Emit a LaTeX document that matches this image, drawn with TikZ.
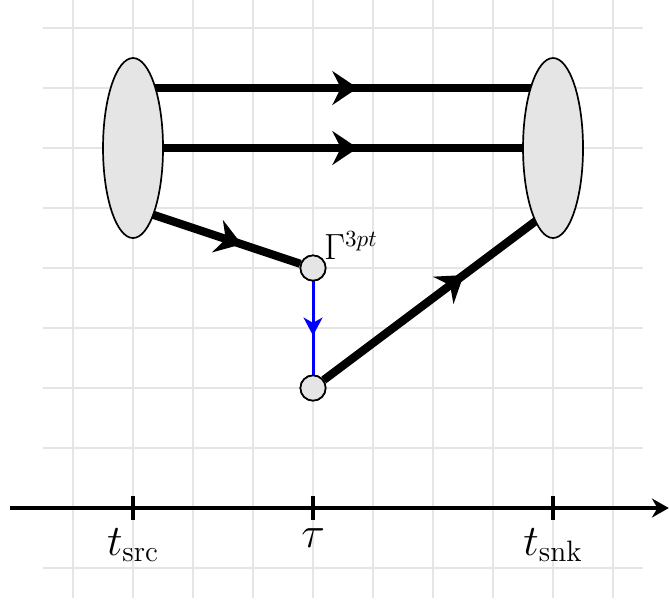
\documentclass[tikz,border=0pt]{standalone}
\usepackage{amsmath, amssymb}
\usepackage{tikz}
\usetikzlibrary{arrows.meta, calc, positioning, decorations.markings, shapes.geometric}

\begin{document}
\begin{tikzpicture}[
    blob/.style={ellipse, draw, thick, fill=gray!20, minimum width=1cm, minimum height=3cm, inner sep=0pt},
    vertex/.style={circle, draw, thick, fill=gray!20, minimum size=0.42cm, inner sep=0pt},
    quark/.style={line width=3.9pt, decoration={markings, mark=at position #1 with {\arrow{Stealth[length=12pt, width=16pt, inset=4pt]}}}, postaction={decorate}},
    current/.style={blue, line width=1.4pt, decoration={markings, mark=at position #1 with {\arrow{Stealth[length=8.5pt, width=9pt, inset=2.5pt]}}}, postaction={decorate}},
    tick/.style={line width=2pt},
    lab/.style={font=\fontsize{20}{24}\selectfont, inner sep=3pt}
]
    \useasboundingbox (-2.217,-1.55) rectangle (8.933,8.467);

    % 网格
    \draw[gray!20, line width=0.8pt] (-1.5,-1.5) grid (8.5,8.5);

    % 中心点
    \coordinate (src) at (0,6);
    \coordinate (snk) at (7,6);
    \node[vertex] (v1) at (3,4) {};
    \node[vertex] (v2) at (3,2) {};
    \node[anchor=south west, inner sep=0pt, font=\fontsize{16}{19}\selectfont] (gam) at ($(v1.north east)+(0.02,-0.02)$) {$\Gamma^{3pt}$};

    % 传播子
    \draw[quark=0.535] ($(src)+(0,1)$) -- ($(snk)+(0,1)$);
    \draw[quark=0.535] (src) -- (snk);
    \draw[quark=0.65] ($(src)+(0,-1)$) -- (v1);
    \draw[quark=0.61] (v2) -- ($(snk)+(0,-1)$);
    \draw[current=0.58] (v1) -- (v2);

    % 源和汇
    \node[blob] (srcblob) at (src) {};
    \node[blob] (snkblob) at (snk) {};
    \node[vertex] at (v1) {};
    \node[vertex] at (v2) {};

    % 时间轴
    \coordinate (tsrc) at (0,0);
    \coordinate (ttau) at (3,0);
    \coordinate (tsnk) at (7,0);
    \draw[-{Stealth[length=8pt, width=9pt]}, line width=2pt] (-2.05,0) -- (8.93,0);
    \draw[tick] ($(tsrc)+(0,0.2)$) -- ($(tsrc)+(0,-0.2)$) node[lab, below] (lsrc) {$t_{\text{src}}$};
    \draw[tick] ($(ttau)+(0,0.2)$) -- ($(ttau)+(0,-0.2)$) node[lab, below] (ltau) {$\tau$};
    \draw[tick] ($(tsnk)+(0,0.2)$) -- ($(tsnk)+(0,-0.2)$) node[lab, below] (lsnk) {$t_{\text{snk}}$};
\end{tikzpicture}
\end{document}
